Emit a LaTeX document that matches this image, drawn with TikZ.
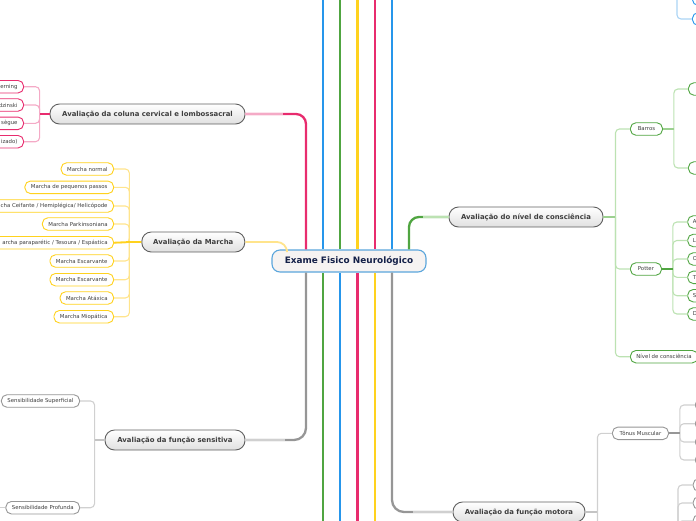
\documentclass[tikz,border=0pt]{standalone}
\usepackage{fontspec}
\setmainfont{DejaVu Sans}
\definecolor{cpink}{RGB}{232,44,110}
\definecolor{cblue}{RGB}{38,150,235}
\definecolor{cgreen}{RGB}{80,165,65}
\definecolor{cyellow}{RGB}{255,210,30}
\definecolor{cgray}{RGB}{150,150,150}
\definecolor{lpink}{RGB}{244,170,198}
\definecolor{lblue}{RGB}{170,212,245}
\definecolor{lgreen}{RGB}{188,226,178}
\definecolor{lyellow}{RGB}{255,228,140}
\definecolor{lgray}{RGB}{208,208,208}
\definecolor{ctext}{RGB}{62,62,62}
\definecolor{cnavy}{RGB}{20,32,72}
\definecolor{cborder}{RGB}{95,95,95}
\definecolor{cmainfill}{RGB}{224,224,224}
\definecolor{ccenter}{RGB}{91,166,220}
\definecolor{ccenterfill}{RGB}{246,243,242}
\begin{document}
\begin{tikzpicture}[x=1pt,y=-1pt,
  trunk/.style={line width=2.3pt},
  centernode/.style={draw=ccenter, line width=1.1pt, fill=ccenterfill, rounded corners=8pt,
    minimum width=154pt, minimum height=22pt, inner sep=0pt,
    font=\fontsize{8.9}{10}\selectfont\bfseries, text=cnavy},
  mainnode/.style={draw=cborder, line width=0.9pt, rounded corners=9.5pt,
    top color=white, bottom color=cmainfill, minimum height=20pt, inner sep=0pt,
    font=\fontsize{6.9}{8}\selectfont\bfseries, text=ctext},
  subnode/.style={line width=0.9pt, fill=white, rounded corners=5.5pt,
    minimum height=12.5pt, inner xsep=6pt, inner ysep=0pt,
    font=\fontsize{5.4}{6}\selectfont, text=ctext},
  pinksub/.style={subnode, draw=cpink},
  yellowsub/.style={subnode, draw=cyellow},
  graysub/.style={subnode, draw=cgray},
  greensub/.style={subnode, draw=cgreen},
  bluesub/.style={subnode, draw=cblue},
  emptysub/.style={minimum width=30pt},
  cutleft/.style={text width=#1, align=right},
  cutright/.style={text width=#1, align=left, inner xsep=5pt},
  subline/.style={line width=1.1pt, rounded corners=4pt},
  hubline/.style={line width=1.8pt},
]
\useasboundingbox (0,0) rectangle (696,520);
\clip (0,0) rectangle (696,520);

% ---------- center ----------
\node[centernode] (c) at (349,261) {Exame Fisico Neurológico};

% ---------- main nodes ----------
\node[mainnode, minimum width=195pt] (col) at (147.5,114) {Avaliação da coluna cervical e lombossacral};
\node[mainnode, minimum width=103pt] (mar) at (193.3,242) {Avaliação da Marcha};
\node[mainnode, minimum width=140pt] (sen) at (175,440) {Avaliação da função sensitiva};
\node[mainnode, minimum width=154pt] (niv) at (526,217) {Avaliação do nível de consciência};
\node[mainnode, minimum width=132pt] (mot) at (519,512) {Avaliação da função motora};

% ---------- trunk coordinates ----------
\coordinate (tP) at (306,0);
\coordinate (tA) at (323,-5);
\coordinate (tB) at (340,-5);
\coordinate (tC) at (357.5,-5);
\coordinate (tD) at (375,-5);
\coordinate (tE) at (392,-5);
\coordinate (tG) at (409,0);
\coordinate (bA) at (323,525);
\coordinate (bB) at (340,525);
\coordinate (bC) at (357.5,525);
\coordinate (bD) at (375,525);
\coordinate (yM) at (287,0);

% ---------- trunks ----------
\draw[trunk, cblue]   (tA) -- (tA |- c.north);
\draw[trunk, cgreen]  (tB) -- (tB |- c.north);
\draw[trunk, cyellow] (tC) -- (tC |- c.north);
\draw[trunk, cpink]   (tD) -- (tD |- c.north);
\draw[trunk, cblue]   (tE) -- (tE |- c.north);
\draw[trunk, cgreen]  (bA) -- (bA |- c.south);
\draw[trunk, cblue]   (bB) -- (bB |- c.south);
\draw[trunk, cpink]   (bC) -- (bC |- c.south);
\draw[trunk, cyellow] (bD) -- (bD |- c.south);

% branch to coluna
\draw[trunk, cpink, rounded corners=10pt] (tP |- c.north) |- (col.east);
\draw[line width=2pt, lpink] (col.east) -- ([xshift=38pt]col.east);
% branch to nivel
\draw[trunk, cgreen, rounded corners=10pt] (tG |- c.north) |- (niv.west);
\draw[line width=2pt, lgreen] ([xshift=-26pt]niv.west) -- (niv.west);
% branch to sensitiva
\draw[trunk, cgray, rounded corners=12pt] (tP |- c.south) |- (sen.east);
\draw[line width=2pt, lgray] (sen.east) -- ([xshift=40pt]sen.east);
% branch to motora
\draw[trunk, cgray, rounded corners=12pt] (tE |- c.south) |- (mot.west);
\draw[line width=2pt, lgray] ([xshift=-40pt]mot.west) -- (mot.west);
% branch to marcha
\draw[line width=1.8pt, lyellow, rounded corners=10pt] (mar.east) -| (yM |- c.north);

% ---------- coluna children ----------
\node[pinksub, cutleft=40pt, anchor=east] (k1) at (24,86.7) {erning};
\node[pinksub, cutleft=40pt, anchor=east] (k2) at (24,105) {dzinski};
\node[pinksub, cutleft=40pt, anchor=east] (k3) at (24,123.3) {sègue};
\node[pinksub, cutleft=40pt, anchor=east] (k4) at (24,141.7) {izado)};
\coordinate (colb) at ([xshift=-10pt]col.west);
\foreach \k in {k1,k2,k3,k4} \draw[subline, lpink] (colb) |- (\k.east);
\draw[hubline, cpink] (col.west) -- (colb);

% ---------- marcha children ----------
\node[yellowsub, anchor=east] (m1) at (114,169) {Marcha normal};
\node[yellowsub, anchor=east] (m2) at (114,187.3) {Marcha de pequenos passos};
\node[yellowsub, cutleft=120pt, anchor=east] (m3) at (114,206) {cha Ceifante / Hemiplégica/ Helicópode};
\node[yellowsub, anchor=east] (m4) at (114,224) {Marcha Parkinsoniana};
\node[yellowsub, cutleft=120pt, anchor=east] (m5) at (114,242.7) {archa paraparétic / Tesoura / Espástica};
\node[yellowsub, anchor=east] (m6) at (114,261) {Marcha Escarvante};
\node[yellowsub, anchor=east] (m7) at (114,279.7) {Marcha Escarvante};
\node[yellowsub, anchor=east] (m8) at (114,298) {Marcha Atáxica};
\node[yellowsub, anchor=east] (m9) at (114,316.7) {Marcha Miopática};
\coordinate (marb) at ([xshift=-12pt]mar.west);
\foreach \k in {m1,m2,m3,m4,m5,m6,m7,m8,m9} \draw[subline, lyellow] (marb) |- (\k.east);
\draw[hubline, cyellow] (mar.west) -- (marb) -- (m5.east);

% ---------- sensitiva children ----------
\node[graysub, anchor=east] (s1) at (80,401) {Sensibilidade Superficial};
\node[graysub, anchor=east] (s2) at (80,507.7) {Sensibilidade Profunda};
\coordinate (senb) at ([xshift=-10pt]sen.west);
\coordinate (s2x) at (-10,507.7);
\foreach \k in {s1,s2} \draw[subline, lgray] (senb) |- (\k.east);
\draw[hubline, lgray!80!cgray] (sen.west) -- (senb);
\draw[subline, lgray] (s2.west) -- (s2x);

% ---------- nivel children ----------
\node[greensub, anchor=west, minimum width=32pt] (bar) at (630,129) {Barros};
\node[greensub, anchor=west, minimum width=31pt] (pot) at (630,269) {Potter};
\node[greensub, anchor=west] (nc) at (630,356.7) {Nível de consciência};
\coordinate (nivb) at ([xshift=12pt]niv.east);
\foreach \k in {bar,pot,nc} \draw[subline, lgreen] (nivb) |- (\k.west);
\draw[hubline, lgreen!70!cgreen] (niv.east) -- (nivb);

\node[greensub, emptysub, anchor=west] (ba1) at (688,89) {};
\node[greensub, emptysub, anchor=west] (ba2) at (688,168) {};
\coordinate (barb) at ([xshift=11pt]bar.east);
\foreach \k in {ba1,ba2} \draw[subline, lgreen] (barb) |- (\k.west);
\draw[hubline, lgreen!70!cgreen] (bar.east) -- (barb);

\node[greensub, cutright=20pt, anchor=west] (p1) at (687.3,222) {A};
\node[greensub, cutright=20pt, anchor=west] (p2) at (687.3,240.5) {L};
\node[greensub, cutright=20pt, anchor=west] (p3) at (687.3,259) {O};
\node[greensub, cutright=20pt, anchor=west] (p4) at (687.3,277.3) {T};
\node[greensub, cutright=20pt, anchor=west] (p5) at (687.3,295.7) {S};
\node[greensub, cutright=20pt, anchor=west] (p6) at (687.3,314) {D};
\coordinate (potb) at ([xshift=11pt]pot.east);
\foreach \k in {p1,p2,p3,p4,p5,p6} \draw[subline, lgreen] (potb) |- (\k.west);
\draw[hubline, cgreen] (pot.east) -- (potb);

% ---------- motora children ----------
\node[graysub, anchor=west, minimum width=56pt] (ton) at (612,433.3) {Tônus Muscular};
\coordinate (motb) at ([xshift=12pt]mot.east);
\coordinate (mo2) at (612,545);
\draw[subline, lgray] (motb) |- (ton.west);
\draw[subline, lgray] (motb) |- (mo2);
\draw[hubline, lgray!80!cgray] (mot.east) -- (motb);

\node[graysub, emptysub, anchor=west] (t1) at (695,405) {};
\node[graysub, emptysub, anchor=west] (t2) at (695,423.7) {};
\node[graysub, emptysub, anchor=west] (t3) at (695,442) {};
\node[graysub, emptysub, anchor=west] (t4) at (695,460) {};
\coordinate (tonb) at ([xshift=11pt]ton.east);
\foreach \k in {t1,t2,t3,t4} \draw[subline, lgray] (tonb) |- (\k.west);
\draw[hubline, cgray] (ton.east) -- (tonb);

\node[graysub, emptysub, anchor=west] (q1) at (692.7,485) {};
\node[graysub, emptysub, anchor=west] (q2) at (692.7,503) {};
\node[graysub, emptysub, anchor=west] (q3) at (692.7,521) {};
\coordinate (g2b) at (678,545);
\foreach \k in {q1,q2,q3} \draw[subline, lgray] (g2b) |- (\k.west);

% ---------- top-right blue ----------
\node[bluesub, emptysub, anchor=west] (bl1) at (692,-1) {};
\node[bluesub, emptysub, anchor=west] (bl2) at (692,19) {};
\coordinate (bt) at (677,-30);
\foreach \k in {bl1,bl2} \draw[subline, lblue] (bt) |- (\k.west);
\end{tikzpicture}
\end{document}
